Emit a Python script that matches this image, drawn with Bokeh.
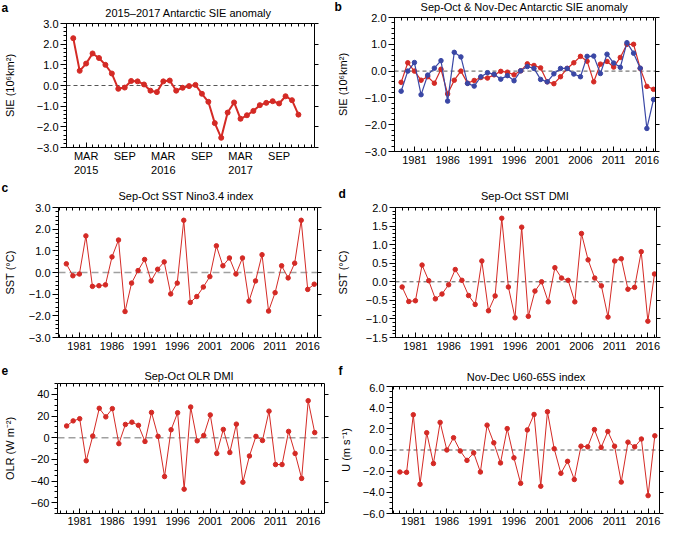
from bokeh.plotting import figure
from bokeh.models import LinearAxis, FixedTicker, Span, Label, Range1d
from bokeh.layouts import row, column
from bokeh.embed import file_html
from bokeh.resources import INLINE
import numpy as np

FONT = "Liberation Sans"
RED = "#d42a25"
BLUE = "#3a47a5"

# ---------------- data ----------------
# panel a: monthly Jan 2015 .. Dec 2017 (month index)
a_months = list(range(36))
a_sie = [2.29, 0.71, 1.06, 1.55, 1.33, 1.00, 0.58, -0.16, -0.10, 0.22, 0.20, 0.05,
         -0.25, -0.32, 0.20, 0.24, -0.25, -0.11, -0.03, 0.03, -0.40, -0.79, -1.82, -2.53,
         -1.31, -0.82, -1.61, -1.44, -1.23, -0.95, -0.84, -0.76, -0.87, -0.52, -0.71, -1.41]
a_x_ticks = [2, 8, 14, 20, 26, 32]
a_x_labels = ["MAR\n2015", "SEP", "MAR\n2016", "SEP", "MAR\n2017", "SEP"]

years = list(range(1979, 2018))
year_ticks = [1981, 1986, 1991, 1996, 2001, 2006, 2011, 2016]
year_labels = ["1981", "1986", "1991", "1996", "2001", "2006", "2011", "2016"]

b_sep_oct = [-0.42, 0.31, 0.00, -0.34, -0.21, -0.45, 0.07, -0.85, -0.34, 0.00,
             -0.45, -0.35, -0.24, -0.26, -0.14, -0.01, -0.04, -0.14, 0.01, 0.27,
             0.21, 0.12, -0.40, -0.47, -0.21, 0.10, 0.31, 0.55, 0.37, -0.40,
             0.26, 0.36, 0.15, 0.51, 1.00, 1.00, 0.10, -0.57, -0.68]
b_nov_dec = [-0.75, 0.00, 0.32, -0.88, -0.15, 0.11, 0.39, -1.12, 0.70, 0.53,
             -0.46, -0.56, -0.21, -0.06, -0.12, -0.30, -0.17, -0.36, 0.01, 0.17,
             0.10, -0.31, -0.40, -0.10, 0.10, 0.10, -0.11, -0.21, 0.55, 0.56,
             -0.09, 0.63, 0.30, 0.14, 1.06, 0.67, 0.11, -2.14, -1.06]
c_nino34 = [0.40, -0.15, -0.07, 1.69, -0.64, -0.61, -0.57, 0.72, 1.50, -1.80,
            -0.49, 0.09, 0.60, -0.39, 0.15, 0.49, -0.99, -0.49, 2.41, -1.38,
            -1.11, -0.67, -0.19, 1.23, 0.31, 0.67, -0.07, 0.67, -1.32, -0.39,
            0.82, -1.78, -0.93, 0.31, -0.25, 0.43, 2.41, -0.78, -0.54]
d_sst_dmi = [-0.14, -0.53, -0.51, 0.45, 0.03, -0.46, -0.33, -0.08, 0.33, 0.04,
             -0.37, -0.61, 0.56, -0.78, -0.38, 1.71, -0.14, -0.97, 1.47, -0.93,
             -0.25, 0.00, -0.54, 0.38, 0.10, 0.04, -0.54, 1.30, 0.59, 0.10,
             -0.11, -0.95, 0.56, 0.62, -0.20, -0.15, 0.81, -1.06, 0.21]
e_olr_dmi = [10.8, 15.5, 17.5, -21.3, 1.5, 27.1, 19.2, 26.8, -5.5, 12.2,
             14.3, 11.4, -3.5, 23.3, 1.2, -35.9, 7.3, 23.0, -47.5, 28.3,
             -2.9, 2.0, 21.0, -14.6, 7.6, -13.7, 12.5, -41.1, -16.9, 1.2,
             -2.6, 24.5, -24.8, -24.8, 5.8, -14.6, -37.6, 34.1, 4.7]
f_u6065 = [-2.08, -2.11, 3.33, -3.24, 1.63, -1.28, 2.61, 0.00, 1.16, -0.09,
           -0.98, -0.27, -2.08, 2.35, 0.68, -1.22, 2.02, -0.74, -3.15, 1.90,
           3.36, -3.42, 3.62, 0.12, -2.20, -1.07, -2.79, 0.36, 0.30, 1.93,
           0.24, 1.75, 0.36, -3.03, 0.74, 0.30, 1.04, -4.31, 1.34]

sie_ticks = [-3, -2, -1, 0, 1, 2, 3]
sie_labels = ["\u22123.0", "\u22122.0", "\u22121.0", "0.0", "1.0", "2.0", "3.0"]
d_ticks = [-1.5, -1.0, -0.5, 0.0, 0.5, 1.0, 1.5, 2.0]
d_labels = ["\u22121.5", "\u22121.0", "\u22120.5", "0.0", "0.5", "1.0", "1.5", "2.0"]
e_ticks = [-60, -40, -20, 0, 20, 40]
e_labels = ["\u221260", "\u221240", "\u221220", "0", "20", "40"]
f_ticks = [-6, -4, -2, 0, 2, 4, 6]
f_labels = ["\u22126.0", "\u22124.0", "\u22122.0", "0.0", "2.0", "4.0", "6.0"]


def base_fig(**kw):
    f = figure(output_backend="svg", toolbar_location=None,
               x_axis_location=None, y_axis_location=None, **kw)
    f.frame_align = False
    f.grid.visible = False
    f.outline_line_color = None
    f.background_fill_color = "white"
    f.border_fill_color = "white"
    return f


def tick_axis(positions, tin, tout):
    """An unlabelled axis that only draws tick marks (given as minor ticks)."""
    ax = LinearAxis(ticker=FixedTicker(ticks=[], minor_ticks=positions))
    ax.axis_line_color = "black"
    ax.minor_tick_line_color = "black"
    ax.minor_tick_in = tin
    ax.minor_tick_out = tout
    ax.major_tick_in = 0
    ax.major_tick_out = 0
    ax.major_label_standoff = 0
    return ax


def make_header(cfg):
    W, hh = cfg["W"], cfg["hh"]
    bl, br = cfg["bl"], cfg["br"]
    h = base_fig(width=W, height=hh, x_range=Range1d(0, W), y_range=Range1d(hh, 0),
                 min_border_left=0, min_border_right=0, min_border_top=0, min_border_bottom=0)
    h.add_layout(Label(x=(bl + W - br) / 2, y=cfg["title_cy"], text=cfg["title"], text_font=FONT,
                       text_font_size="11px", text_align="center", text_baseline="middle",
                       text_color="black"))
    h.add_layout(Label(x=cfg["letter_x"], y=cfg["letter_cy"], text=cfg["letter"], text_font=FONT,
                       text_font_size="12px", text_font_style="bold", text_align="left",
                       text_baseline="middle", text_color="black"))
    return h


def make_panel(cfg):
    W, Hp = cfg["W"], cfg["Hp"]
    bl, br, pt, bb = cfg["bl"], cfg["br"], cfg["pt"], cfg["bb"]
    x0, x1 = cfg["xr"]
    y0, y1 = cfg["yr"]
    p = base_fig(width=W, height=Hp, x_range=Range1d(x0, x1), y_range=Range1d(y0, y1),
                 min_border_left=bl, min_border_right=br, min_border_top=pt, min_border_bottom=bb)

    xt = FixedTicker(ticks=cfg["xticks"], minor_ticks=cfg["xminor"])
    yt = FixedTicker(ticks=cfg["yticks"], minor_ticks=cfg["yminor"])

    bottom = LinearAxis(ticker=xt, major_label_overrides=dict(zip(cfg["xticks"], cfg["xlabels"])))
    bottom.axis_line_color = "black"
    bottom.major_tick_line_color = "black"
    bottom.minor_tick_line_color = "black"
    bottom.major_label_text_font = FONT
    bottom.major_label_text_font_size = "11px"
    bottom.major_label_text_color = "black"
    bottom.major_tick_in = 5
    bottom.major_tick_out = 0
    bottom.minor_tick_in = 3
    bottom.minor_tick_out = 0
    bottom.major_label_standoff = cfg["xlab_standoff"]
    p.add_layout(bottom, "below")

    left = LinearAxis(ticker=yt, major_label_overrides=dict(zip(cfg["yticks"], cfg["ylabels"])),
                      axis_label=cfg["ylabel"])
    left.axis_line_color = "black"
    left.major_tick_line_color = "black"
    left.minor_tick_line_color = "black"
    left.major_label_text_font = FONT
    left.major_label_text_font_size = "11px"
    left.major_label_text_color = "black"
    left.major_tick_out = 6
    left.major_tick_in = 0
    left.minor_tick_out = 3
    left.minor_tick_in = 0
    left.major_label_standoff = 2
    left.axis_label_text_font = FONT
    left.axis_label_text_font_size = "11px"
    left.axis_label_text_font_style = "normal"
    left.axis_label_text_color = "black"
    left.axis_label_standoff = cfg["ylab_standoff"]
    p.add_layout(left, "left")

    # top: inward tick marks; right: outward tick marks at the labelled values
    p.add_layout(tick_axis(cfg["xminor"], 3, 0), "above")
    p.add_layout(tick_axis(cfg["yticks"], 0, 4), "right")

    span = Span(location=0, dimension="width", line_color=cfg["span_color"],
                line_dash=cfg["span_dash"], line_width=cfg["span_width"], level="underlay")
    p.add_layout(span)

    for ys, col in zip(cfg["series"], cfg["colors"]):
        p.line(cfg["x"], ys, line_color=col, line_width=cfg["lw"])
        p.scatter(cfg["x"], ys, size=cfg["ms"], fill_color=col, line_color=col)
    return p


year_minor = list(range(1977, 2020))

cfgs = {
    "a": dict(W=333, hh=19, Hp=159, bl=62, br=19, pt=4, bb=28, xr=(-1.05, 37.5), yr=(-3, 3),
              x=a_months, series=[a_sie], colors=[RED], lw=2, ms=5,
              xticks=a_x_ticks, xlabels=a_x_labels, xminor=list(range(-1, 38)), xlab_standoff=2,
              yticks=sie_ticks, ylabels=sie_labels, yminor=list(np.round(np.arange(-3, 3.01, 0.2), 2)),
              ylabel="SIE (10\u2076km\u00b2)", ylab_standoff=18,
              span_color="#555555", span_dash="4 3", span_width=1,
              title="2015\u20132017 Antarctic SIE anomaly", title_cy=12.5,
              letter="a", letter_x=1, letter_cy=7),
    "b": dict(W=333, hh=13, Hp=165, bl=60, br=11, pt=4, bb=27, xr=(1978, 2017.3), yr=(-3, 2),
              x=years, series=[b_sep_oct, b_nov_dec], colors=[RED, BLUE], lw=1.2, ms=4.5,
              xticks=year_ticks, xlabels=year_labels, xminor=year_minor, xlab_standoff=4,
              yticks=sie_ticks[:6], ylabels=sie_labels[:6], yminor=list(np.round(np.arange(-3, 2.01, 0.2), 2)),
              ylabel="SIE (10\u2076km\u00b2)", ylab_standoff=13,
              span_color="#555555", span_dash="4 3", span_width=1,
              title="Sep-Oct & Nov-Dec Antarctic SIE anomaly", title_cy=6.5,
              letter="b", letter_x=1, letter_cy=6.5),
    "c": dict(W=333, hh=25, Hp=151, bl=54, br=16, pt=4, bb=17, xr=(1977.8, 2017.5), yr=(-3, 3),
              x=years, series=[c_nino34], colors=[RED], lw=1, ms=4.5,
              xticks=year_ticks, xlabels=year_labels, xminor=year_minor, xlab_standoff=4,
              yticks=sie_ticks, ylabels=sie_labels, yminor=list(np.round(np.arange(-3, 3.01, 0.2), 2)),
              ylabel="SST (\u00b0C)", ylab_standoff=10,
              span_color="#a0a0a0", span_dash="7 4", span_width=1.5,
              title="Sep-Oct SST Nino3.4 index", title_cy=17.8,
              letter="c", letter_x=1, letter_cy=9.7),
    "d": dict(W=333, hh=25, Hp=151, bl=60, br=10, pt=4, bb=17, xr=(1978, 2017.3), yr=(-1.5, 2.0),
              x=years, series=[d_sst_dmi], colors=[RED], lw=1, ms=4.5,
              xticks=year_ticks, xlabels=year_labels, xminor=year_minor, xlab_standoff=4,
              yticks=d_ticks, ylabels=d_labels, yminor=list(np.round(np.arange(-1.5, 2.01, 0.1), 2)),
              ylabel="SST (\u00b0C)", ylab_standoff=14,
              span_color="#555555", span_dash="4 3", span_width=1,
              title="Sep-Oct SST DMI", title_cy=17.8,
              letter="d", letter_x=5, letter_cy=15.8),
    "e": dict(W=333, hh=28, Hp=148, bl=53, br=9, pt=1, bb=17, xr=(1977.6, 2018.5), yr=(-70, 50),
              x=years, series=[e_olr_dmi], colors=[RED], lw=1, ms=4.5,
              xticks=year_ticks, xlabels=year_labels, xminor=year_minor, xlab_standoff=3,
              yticks=e_ticks, ylabels=e_labels, yminor=list(range(-70, 51, 5)),
              ylabel="OLR (W m\u207b\u00b2)", ylab_standoff=12,
              span_color="#a0a0a0", span_dash="7 4", span_width=1.5,
              title="Sep-Oct OLR DMI", title_cy=21.5,
              letter="e", letter_x=1, letter_cy=16),
    "f": dict(W=333, hh=29, Hp=147, bl=59, br=7, pt=3, bb=17, xr=(1977.9, 2017.7), yr=(-6, 6),
              x=years, series=[f_u6065], colors=[RED], lw=1, ms=4.5,
              xticks=year_ticks, xlabels=year_labels, xminor=year_minor, xlab_standoff=3,
              yticks=f_ticks, ylabels=f_labels, yminor=list(np.round(np.arange(-6, 6.01, 0.5), 2)),
              ylabel="U (m s\u207b\u00b9)", ylab_standoff=8,
              span_color="#555555", span_dash="4 3", span_width=1,
              title="Nov-Dec U60-65S index", title_cy=22.5,
              letter="f", letter_x=5, letter_cy=16),
}

cells = {k: column(make_header(v), make_panel(v)) for k, v in cfgs.items()}
layout = column(row(cells["a"], cells["b"]),
                row(cells["c"], cells["d"]),
                row(cells["e"], cells["f"]))

open("out.html", "w").write(file_html(layout, INLINE))
